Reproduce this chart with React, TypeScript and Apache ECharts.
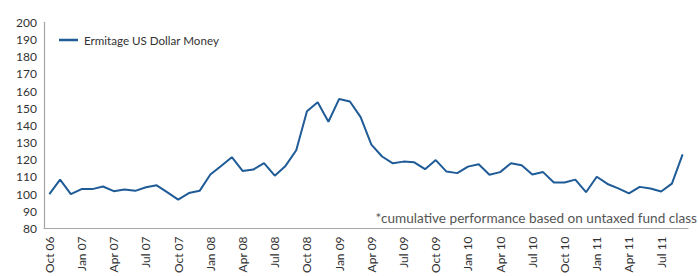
import React, { useEffect, useRef } from "react";
import * as echarts from "echarts";

const monthNames = ["Jan", "Feb", "Mar", "Apr", "May", "Jun", "Jul", "Aug", "Sep", "Oct", "Nov", "Dec"];

// Oct 06 .. Sep 11, monthly
const months: string[] = [];
for (let i = 0; i < 60; i++) {
  const m = (9 + i) % 12;
  const y = 6 + Math.floor((9 + i) / 12);
  months.push(monthNames[m] + " " + (y < 10 ? "0" + y : String(y)));
}

const seriesName = "Ermitage US Dollar Money";
const values = [
  100, 108.4, 100, 102.9, 102.9, 104.4, 101.7, 102.7, 101.9, 104, 105.1, 101,
  96.8, 100.6, 101.9, 111.4, 116.4, 121.5, 113.5, 114.3, 118, 110.7, 116.4, 125.5,
  148.2, 153.4, 142.1, 155.4, 153.9, 144.8, 128.8, 121.9, 117.9, 118.9, 118.5, 114.5,
  119.8, 113.1, 112.2, 116, 117.4, 111.3, 112.8, 117.9, 116.8, 111.4, 112.8, 106.7,
  106.7, 108.4, 101.1, 110.1, 105.9, 103.3, 100.4, 104.2, 103.3, 101.5, 106.1, 123.1,
];

const yMin = 80;
const yMax = 200;
const yStep = 10;
const note = "*cumulative performance based on untaxed fund class";

const FONT = "Lato, 'Open Sans', sans-serif";

export default function App() {
  const ref = useRef<HTMLDivElement>(null);
  useEffect(() => {
    if (!ref.current) return;
    const chart = echarts.init(ref.current, undefined, { renderer: "svg" });
    chart.setOption({
      animation: false,
      backgroundColor: "#ffffff",
      textStyle: { fontFamily: FONT },
      grid: { left: 44, right: 10, top: 22.3, bottom: 43.5, containLabel: false },
      legend: {
        left: 54,
        top: 29,
        itemWidth: 19,
        itemHeight: 2.5,
        itemGap: 10,
        icon: "rect",
        textStyle: { fontFamily: FONT, fontSize: 11.6, color: "#333333", padding: [0, 0, 0, 1] },
        data: [seriesName],
      },
      xAxis: {
        type: "category",
        data: months,
        boundaryGap: true,
        axisLine: { show: true, lineStyle: { color: "#a6a6a6", width: 1.2 } },
        axisTick: { show: false },
        axisLabel: {
          interval: 2,
          rotate: 90,
          margin: 8,
          fontFamily: FONT,
          fontSize: 12,
          color: "#333333",
        },
        splitLine: { show: false },
      },
      yAxis: {
        type: "value",
        min: yMin,
        max: yMax,
        interval: yStep,
        axisLine: { show: true, lineStyle: { color: "#a6a6a6", width: 1.2 } },
        axisTick: { show: false },
        axisLabel: { margin: 7, fontFamily: FONT, fontSize: 12, color: "#333333" },
        splitLine: { show: false },
      },
      series: [
        {
          name: seriesName,
          type: "line",
          data: values,
          showSymbol: false,
          symbol: "none",
          lineStyle: { color: "#1f5b97", width: 2 },
          itemStyle: { color: "#1f5b97" },
        },
      ],
      graphic: [
        {
          type: "text",
          x: 697,
          y: 218,
          style: {
            text: note,
            fill: "#555555",
            font: "13.6px " + FONT,
            textAlign: "right",
            textVerticalAlign: "middle",
          },
        },
      ],
    });
    return () => chart.dispose();
  }, []);
  return <div ref={ref} style={{ width: 698, height: 276, position: "absolute", left: 0, top: 0 }} />;
}
